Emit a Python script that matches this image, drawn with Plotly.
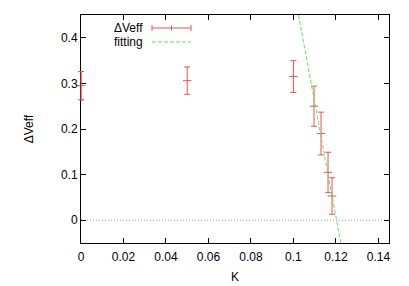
import plotly.graph_objects as go

# Data
k_vals = [0.0, 0.05, 0.10, 0.1097, 0.113, 0.1163, 0.1182]
dveff = [0.295, 0.306, 0.315, 0.250, 0.190, 0.105, 0.053]
dveff_err = [0.031, 0.030, 0.035, 0.044, 0.047, 0.044, 0.040]

fit_k = [0.1024, 0.1223]
fit_y = [0.45, -0.05]

x_ticks = [0, 0.02, 0.04, 0.06, 0.08, 0.1, 0.12, 0.14]
x_tick_labels = ["0", "0.02", "0.04", "0.06", "0.08", "0.1", "0.12", "0.14"]
y_ticks = [0, 0.1, 0.2, 0.3, 0.4]
y_tick_labels = ["0", "0.1", "0.2", "0.3", "0.4"]

red = "rgb(240,80,80)"
green = "rgb(90,230,90)"
font = dict(family="Liberation Sans, Arial, sans-serif", size=12, color="black")
x_range = [0, 0.145]
fit_dash = "4px,2px"

fig = go.Figure()

# zero line
fig.add_trace(go.Scatter(x=x_range, y=[0, 0], mode="lines",
                         line=dict(color="rgb(150,150,150)", width=1, dash="1px,2px"),
                         showlegend=False, hoverinfo="skip"))

fig.add_trace(go.Scatter(x=k_vals, y=dveff, mode="markers",
                         marker=dict(symbol="line-ew", size=6, line=dict(color=red, width=1)),
                         error_y=dict(type="data", array=dveff_err, color=red, thickness=1, width=3),
                         cliponaxis=False, showlegend=False))

fig.add_trace(go.Scatter(x=fit_k, y=fit_y, mode="lines",
                         line=dict(color=green, width=1, dash=fit_dash),
                         showlegend=False))

# manual gnuplot-style legend (pixel positions converted to plot-area paper coords)
L, R, T, B = 81, 389, 15, 243
W, H = 409, 286
def px(x):
    return (x - L) / (R - L)
def py(y):
    return (B - y) / (B - T)

shapes = []
# error bars sitting on the left axis (k = 0) are clipped by plotly; redraw them unclipped
cap = 3 / (R - L)
for k, v, e in zip(k_vals, dveff, dveff_err):
    if k == x_range[0]:
        xp = (k - x_range[0]) / (x_range[1] - x_range[0])
        shapes.append(dict(type="line", xref="paper", yref="y", x0=xp, x1=xp, y0=v - e, y1=v + e,
                           line=dict(color=red, width=1)))
        for yy in (v - e, v + e):
            shapes.append(dict(type="line", xref="paper", yref="y", x0=xp - cap, x1=xp + cap, y0=yy, y1=yy,
                               line=dict(color=red, width=1)))

fig.add_annotation(x=px(145), y=py(28), xref="paper", yref="paper", text="ΔVeff",
                   showarrow=False, xanchor="right", yanchor="middle", font=font)
fig.add_annotation(x=px(145), y=py(42), xref="paper", yref="paper", text="fitting",
                   showarrow=False, xanchor="right", yanchor="middle", font=font)
shapes.append(dict(type="line", xref="paper", yref="paper", x0=px(152), x1=px(191), y0=py(28), y1=py(28),
                   line=dict(color=red, width=1)))
for xx in (152, 191):
    shapes.append(dict(type="line", xref="paper", yref="paper", x0=px(xx), x1=px(xx), y0=py(25), y1=py(31),
                       line=dict(color=red, width=1)))
shapes.append(dict(type="line", xref="paper", yref="paper", x0=px(171.5), x1=px(171.5), y0=py(25.5), y1=py(30.5),
                   line=dict(color=red, width=1)))
shapes.append(dict(type="line", xref="paper", yref="paper", x0=px(152), x1=px(191), y0=py(42), y1=py(42),
                   line=dict(color=green, width=1, dash=fit_dash)))
fig.update_layout(shapes=shapes)

fig.update_layout(
    width=W, height=H,
    margin=dict(l=L, r=W - R, t=T, b=H - B, pad=0),
    paper_bgcolor="white", plot_bgcolor="white",
    font=font,
    xaxis=dict(range=x_range, tickvals=x_ticks, ticktext=x_tick_labels,
               ticks="inside", ticklen=5, tickwidth=1, tickcolor="black",
               showline=True, linecolor="black", linewidth=1, mirror="ticks",
               showgrid=False, zeroline=False, automargin=False, ticklabelstandoff=3,
               title=dict(text="K", standoff=9, font=font)),
    yaxis=dict(range=[-0.05, 0.45], tickvals=y_ticks, ticktext=y_tick_labels,
               ticks="inside", ticklen=5, tickwidth=1, tickcolor="black",
               showline=True, linecolor="black", linewidth=1, mirror="ticks",
               showgrid=False, zeroline=False, automargin=False,
               title=dict(text="ΔVeff", standoff=24, font=font)),
)

fig.write_html("out.html", config={"displayModeBar": False},
               post_script="document.body.style.margin='0';")
